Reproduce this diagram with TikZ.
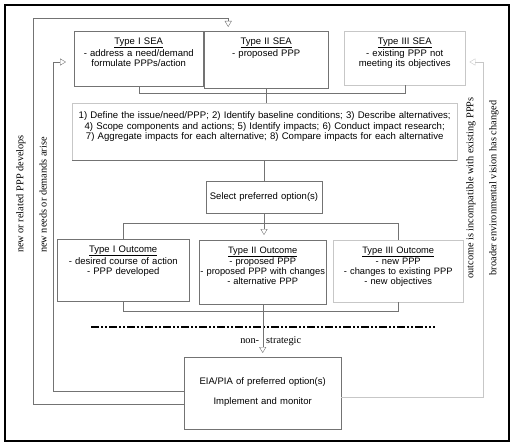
\documentclass[tikz,border=0pt]{standalone}
\usepackage{fontspec}
\setmainfont{Liberation Sans}
\newfontfamily\timesfam{Liberation Serif}
\usetikzlibrary{arrows.meta,positioning}

\begin{document}
\begin{tikzpicture}[
      x=1pt,y=-1pt,
      box/.style={
         rectangle,
         anchor=north west,
         draw=black!55,
         inner ysep=3pt,
         inner xsep=0pt,
         align=center,
         font=\fontsize{9.5}{10.2}\selectfont,
         text height=10pt
      },
      faint/.style={draw=black!22},
      link/.style={draw=black!55,thin},
      sidetext/.style={
         rotate=90,
         font=\timesfam\fontsize{10.3}{12}\selectfont
      },
      >={Triangle[open,length=6pt,width=7pt]},
      tip/.style={->,shorten >=4pt},
    ]
    \useasboundingbox (0,0) rectangle (513,446);
    \draw[line width=1.8pt] (5,5) rectangle (509,441);

    % SEA types
    \node (s1) [box,text width=129pt,text depth=39pt] at (74,31)
      {\underline{Type I SEA}\\- address a need/demand\\formulate PPPs/action};
    \node (s2) [box,text width=124pt,text depth=41pt] at (204,31)
      {\underline{Type II SEA}\\- proposed PPP};
    \node (s3) [box,faint,text width=121pt,text depth=38pt] at (344,31)
      {\underline{Type III SEA}\\- existing PPP not\\meeting its objectives};

    \node (steps) [box,faint,text width=385pt,text height=12.5pt,text depth=38.5pt,
      font=\fontsize{9.6}{10.6}\selectfont] at (72,103)
      {1) Define the issue/need/PPP; 2) Identify baseline conditions; 3) Describe alternatives;\\
       4) Scope components and actions; 5) Identify impacts; 6) Conduct impact research;\\
       7) Aggregate impacts for each alternative; 8) Compare impacts for each alternative};

    \node (sel) [box,anchor=center,text width=116pt,text height=7pt,text depth=2pt,
      inner ysep=11.5pt] at (264,197) {Select preferred option(s)};

    % outcomes
    \node (o1) [box,text width=132pt,text depth=46pt] at (57,239)
      {\underline{Type I Outcome}\\- desired course of action\\- PPP developed};
    \node (o2) [box,text width=127pt,text depth=48pt,font=\fontsize{9.3}{9.9}\selectfont] at (199,240)
      {\underline{Type II Outcome}\\- proposed PPP\\\mbox{- proposed PPP with changes}\\- alternative PPP};
    \node (o3) [box,faint,text width=130pt,text depth=46pt,font=\fontsize{9.3}{9.9}\selectfont] at (333,240)
      {\underline{Type III Outcome}\\- new PPP\\- changes to existing PPP\\- new objectives};

    \node (eia) [box,text width=157pt,text height=24.5pt,text depth=41.5pt] at (184,357)
      {EIA/PIA of preferred option(s)\\[9.8pt]Implement and monitor};

    \draw[link] (steps.south west) -- (steps.south east);

    % brackets
    \draw[link] (s1.south) -- ++(0,7) -| (s3.south);
    \draw[link] (s2.south) -- (s2.south |- steps.north);
    \draw[link] (sel.north |- steps.south) -- (sel.north);
    \draw[link] (o1.north) -- ++(0,-16) -| (o3.north);
    \draw[link,tip,shorten >=5pt] (sel.south) -- (sel.south |- o2.north);
    \draw[link] (o1.south) -- ++(0,10) -| (o3.south);

    \coordinate (dl) at (91,327);
    \coordinate (dr) at (435,327);
    \draw[line width=1.6pt,dash pattern=on 8pt off 2pt on 2pt off 2pt on 2pt off 2pt] (dl) -- (dr);

    \draw[link,tip] (o2.south) -- (o2.south |- eia.north)
      node[pos=.7,left=0pt,font=\timesfam\fontsize{10.3}{12}\selectfont] (ns1) {non-}
      node[pos=.7,right=0pt,font=\timesfam\fontsize{10.3}{12}\selectfont] (ns2) {strategic};

    % loops back
    \coordinate (ca) at (33,18);
    \coordinate (cb) at (53,62);
    \coordinate (cc) at (483,62);
    \draw[link,tip] ([yshift=-11pt]eia.west) -| (ca) -| ([xshift=-38pt]s2.north);
    \draw[link,tip,shorten >=8pt] ([yshift=2pt]eia.west) -| (cb) -- (s1.west |- cb);
    \draw[link,faint,tip] ([yshift=-4pt]eia.east) -| (cc) -- (s3.east |- cc);

    \node (lab1) [sidetext] at (21,194) {new or related PPP develops};
    \node (lab2) [sidetext] at (43,195) {new needs or demands arise};
    \node (lab3) [sidetext] at (471,188) {outcome is incompatible with existing PPPs};
    \node (lab4) [sidetext] at (494,188) {broader environmental vision has changed};
\end{tikzpicture}
\end{document}
